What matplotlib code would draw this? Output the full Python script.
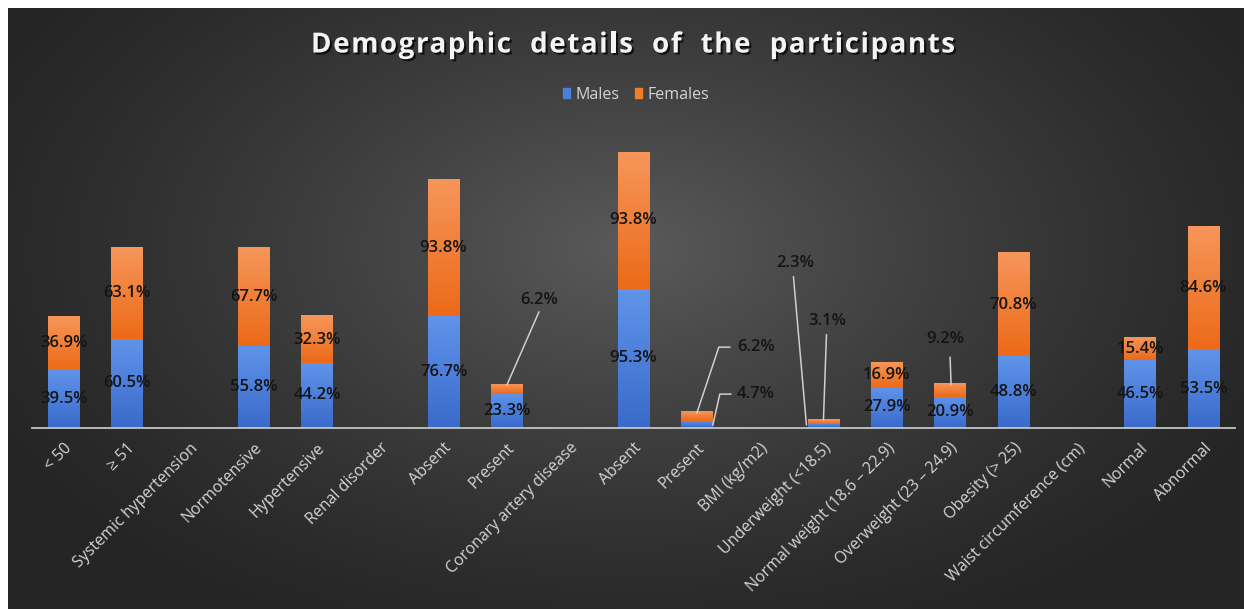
import numpy as np
import matplotlib.pyplot as plt
from matplotlib import patheffects
from matplotlib.colors import LinearSegmentedColormap
from matplotlib.lines import Line2D
from matplotlib.patches import Patch
from matplotlib.transforms import IdentityTransform

plt.rcParams['font.family'] = ['Open Sans', 'DejaVu Sans']

# Data
categories = ["< 50", "\u2265 51", "Systemic hypertension", "Normotensive", "Hypertensive",
              "Renal disorder", "Absent", "Present", "Coronary artery disease", "Absent",
              "Present", "BMI (kg/m2)", "Underweight (<18.5)", "Normal weight (18.6 \u2013 22.9)",
              "Overweight (23 \u2013 24.9)", "Obesity (> 25)", "Waist circumference (cm)",
              "Normal", "Abnormal"]
males = [39.5, 60.5, None, 55.8, 44.2, None, 76.7, 23.3, None, 95.3, 4.7, None,
         2.3, 27.9, 20.9, 48.8, None, 46.5, 53.5]
females = [36.9, 63.1, None, 67.7, 32.3, None, 93.8, 6.2, None, 93.8, 6.2, None,
           3.1, 16.9, 9.2, 70.8, None, 15.4, 84.6]

m = np.array([np.nan if v is None else v for v in males])
f = np.array([np.nan if v is None else v for v in females])
x = np.arange(len(categories))

# labels pulled out of small segments: pixel offsets from the segment middle
# for the leader line points and the text position
callouts = {
    (7, 'f'): dict(line=[(0, 4), (32, 77)], text=(32, 89), ha='center'),
    (10, 'f'): dict(line=[(0, 3), (22, 69), (33, 69)], text=(40, 69), ha='left'),
    (10, 'm'): dict(line=[(16, -1), (23, 30), (34, 30)], text=(40, 30), ha='left'),
    (12, 'm'): dict(line=[(-17, 1), (-30, 149)], text=(-28, 163), ha='center'),
    (12, 'f'): dict(line=[(0, 2), (3, 87)], text=(4, 101), ha='center'),
    (14, 'f'): dict(line=[(1, 6), (0, 33)], text=(-5, 51), ha='center'),
}

W, H = 1244, 609
fig = plt.figure(figsize=(W / 100, H / 100), dpi=100)
fig.patch.set_facecolor('white')

# dark radial background
bg = fig.add_axes([8 / W, 0, (W - 8) / W, (H - 8) / H])
bh, bw = H - 8, W - 8
yy, xx = np.mgrid[0:bh, 0:bw]
r = np.sqrt(((xx - 620) / 720) ** 2 + ((yy - 240) / 430) ** 2)
shade = np.clip(1 - r, 0, 1) ** 1.3
val = (0x25 + (0x5a - 0x25) * shade) / 255
bg.imshow(np.dstack([val, val, val]), aspect='auto', interpolation='bilinear')
bg.axis('off')

# plot area
base_px = 427.5
px_per_unit = 1.456
ymax = 200
ax = fig.add_axes([32 / W, (H - base_px) / H, 1203 / W, ymax * px_per_unit / H])
ax.set_facecolor('none')

blue_cmap = LinearSegmentedColormap.from_list('b', ['#3a6bcb', '#6094ea'])
orange_cmap = LinearSegmentedColormap.from_list('o', ['#ec6a18', '#f6965a'])

ok = ~np.isnan(m)
bars_m = ax.bar(x[ok], m[ok], width=0.5, color='#4a7fdc', zorder=2)
bars_f = ax.bar(x[ok], f[ok], width=0.5, bottom=m[ok], color='#f07f2c', zorder=2)

grad = np.linspace(1, 0, 64).reshape(-1, 1)
for bars, cmap in [(bars_m, blue_cmap), (bars_f, orange_cmap)]:
    for p in bars:
        x0, y0 = p.get_x(), p.get_y()
        ax.imshow(grad, extent=[x0, x0 + p.get_width(), y0, y0 + p.get_height()],
                  aspect='auto', cmap=cmap, vmin=0, vmax=1, zorder=2.1,
                  interpolation='bilinear')
        p.set_path_effects([patheffects.SimplePatchShadow(offset=(0, 0), shadow_rgbFace='black',
                                                          alpha=0.35),
                            patheffects.Normal()])

ax.set_xlim(-0.5, len(categories) - 0.5)
ax.set_ylim(0, ymax)

for s in ['top', 'right', 'left']:
    ax.spines[s].set_visible(False)
ax.spines['bottom'].set_color('#c4c4c4')
ax.spines['bottom'].set_linewidth(1.3)
ax.set_yticks([])
ax.set_xticks(x)
ax.set_xticklabels(categories, rotation=45, ha='right', rotation_mode='anchor',
                   color='#d4d4d4', fontsize=11.5)
ax.tick_params(axis='x', length=0, pad=9)

label_kw = dict(fontsize=12, fontweight='semibold', color='#141414', zorder=4)
for i in x[ok]:
    for key, bottom, v in [('m', 0, m[i]), ('f', m[i], f[i])]:
        mid = bottom + v / 2
        txt = f"{v:.1f}%"
        if (i, key) in callouts:
            c = callouts[(i, key)]
            ax_px = ax.transData.transform((i, mid))
            pts = np.array([ax_px + np.array(o) for o in c['line']])
            ax.add_line(Line2D(pts[:, 0], pts[:, 1], transform=IdentityTransform(),
                               color='#cfcfcf', lw=1.1, zorder=3))
            ax.annotate(txt, xy=(i, mid), xytext=c['text'], textcoords='offset pixels',
                        ha=c['ha'], va='center', **label_kw)
        else:
            ax.text(i, mid, txt, ha='center', va='center', **label_kw)

# legend
handles = [Patch(color='#4a7fdc', label='Males'), Patch(color='#f07f2c', label='Females')]
fig.legend(handles=handles, loc='center', bbox_to_anchor=(636 / W, 1 - 95 / H), ncol=2,
           frameon=False, fontsize=11.5, labelcolor='#d4d4d4', handlelength=0.45,
           handleheight=0.6, handletextpad=0.3, columnspacing=1.0)

# title with letter spacing
title = "Demographic  details  of  the  participants"
tprop = dict(fontsize=20, fontweight='bold', color='#f4f4f4')
renderer = fig.canvas.get_renderer()


def text_w(s):
    t = fig.text(0, 0, s, **tprop)
    w = t.get_window_extent(renderer).width
    t.remove()
    return w


target_w = 644
spacing = (target_w - text_w(title)) / (len(title) - 1)
left = 633 - target_w / 2
shadow = [patheffects.SimplePatchShadow(offset=(1.5, -1.5), shadow_rgbFace='black', alpha=0.7),
          patheffects.Normal()]
for k, ch in enumerate(title):
    if ch == ' ':
        continue
    xpos = left + text_w(title[:k + 1]) - text_w(ch) + k * spacing
    fig.text(xpos / W, 1 - 45 / H, ch, ha='left', va='center', path_effects=shadow, **tprop)

fig.savefig('out.png', dpi=100)
